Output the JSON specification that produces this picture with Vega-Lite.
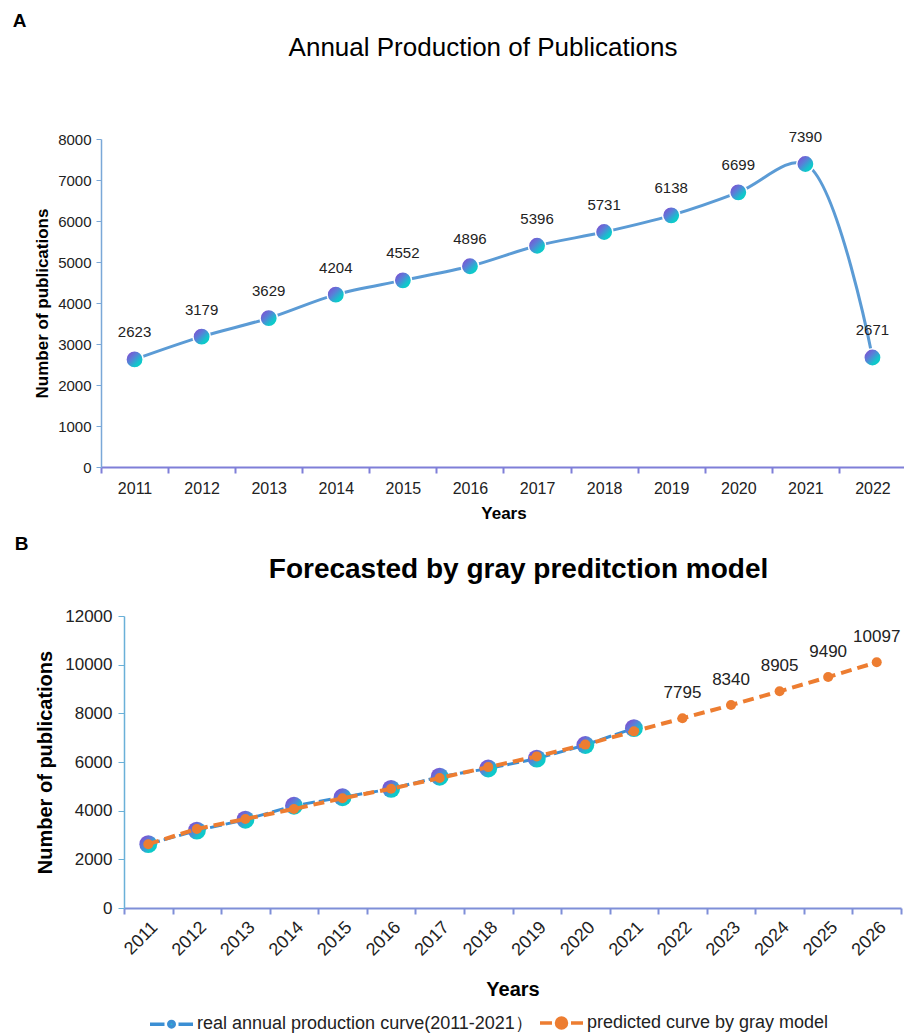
{
  "$schema": "https://vega.github.io/schema/vega-lite/v6.json",
  "background": "white",
  "padding": {"left": 12, "top": 12, "right": 0, "bottom": 0},
  "autosize": {"type": "pad"},
  "columns": 1,
  "align": "none",
  "spacing": 14,
  "datasets": {
    "pubs": [
      {"year": "2011", "count": 2623},
      {"year": "2012", "count": 3179},
      {"year": "2013", "count": 3629},
      {"year": "2014", "count": 4204},
      {"year": "2015", "count": 4552},
      {"year": "2016", "count": 4896},
      {"year": "2017", "count": 5396},
      {"year": "2018", "count": 5731},
      {"year": "2019", "count": 6138},
      {"year": "2020", "count": 6699},
      {"year": "2021", "count": 7390},
      {"year": "2022", "count": 2671}
    ],
    "forecast": [
      {"year": "2011", "series": "real annual production curve(2011-2021）", "value": 2623},
      {"year": "2012", "series": "real annual production curve(2011-2021）", "value": 3179},
      {"year": "2013", "series": "real annual production curve(2011-2021）", "value": 3629},
      {"year": "2014", "series": "real annual production curve(2011-2021）", "value": 4204},
      {"year": "2015", "series": "real annual production curve(2011-2021）", "value": 4552},
      {"year": "2016", "series": "real annual production curve(2011-2021）", "value": 4896},
      {"year": "2017", "series": "real annual production curve(2011-2021）", "value": 5396},
      {"year": "2018", "series": "real annual production curve(2011-2021）", "value": 5731},
      {"year": "2019", "series": "real annual production curve(2011-2021）", "value": 6138},
      {"year": "2020", "series": "real annual production curve(2011-2021）", "value": 6699},
      {"year": "2021", "series": "real annual production curve(2011-2021）", "value": 7390},
      {"year": "2011", "series": "predicted curve by gray model", "value": 2623},
      {"year": "2012", "series": "predicted curve by gray model", "value": 3250},
      {"year": "2013", "series": "predicted curve by gray model", "value": 3660},
      {"year": "2014", "series": "predicted curve by gray model", "value": 4070},
      {"year": "2015", "series": "predicted curve by gray model", "value": 4510},
      {"year": "2016", "series": "predicted curve by gray model", "value": 4900},
      {"year": "2017", "series": "predicted curve by gray model", "value": 5340},
      {"year": "2018", "series": "predicted curve by gray model", "value": 5790},
      {"year": "2019", "series": "predicted curve by gray model", "value": 6230},
      {"year": "2020", "series": "predicted curve by gray model", "value": 6715},
      {"year": "2021", "series": "predicted curve by gray model", "value": 7260},
      {"year": "2022", "series": "predicted curve by gray model", "value": 7795},
      {"year": "2023", "series": "predicted curve by gray model", "value": 8340},
      {"year": "2024", "series": "predicted curve by gray model", "value": 8905},
      {"year": "2025", "series": "predicted curve by gray model", "value": 9490},
      {"year": "2026", "series": "predicted curve by gray model", "value": 10097}
    ]
  },
  "concat": [
    {
      "title": {"text": "A", "anchor": "start", "frame": "bounds", "fontSize": 19, "fontWeight": "bold", "color": "#000", "dx": -21, "offset": 4},
      "vconcat": [
        {
          "title": {"text": "Annual Production of Publications", "frame": "group", "anchor": "middle", "fontSize": 26, "fontWeight": "normal", "color": "#000", "dx": -32, "offset": 69},
          "width": 782,
          "height": 328,
          "data": {"name": "pubs"},
          "encoding": {
            "x": {
              "field": "year", "type": "ordinal", "sort": "ascending",
              "scale": {"paddingInner": 0, "paddingOuter": 0, "range": [-23, 782]},
              "axis": {
                "title": "Years", "labelAngle": 0, "labelFontSize": 16, "labelColor": "#222", "labelPadding": 7,
                "tickBand": "extent", "tickSize": 6, "tickWidth": 2, "tickColor": "#7f7fd8",
                "domainColor": "#7f7fd8", "domainWidth": 2,
                "titleFontSize": 17, "titleFontWeight": "bold", "titleColor": "#000", "titlePadding": 9
              }
            },
            "y": {
              "field": "count", "type": "quantitative",
              "scale": {"domain": [0, 8000]},
              "axis": {
                "title": "Number of publications", "values": [0, 1000, 2000, 3000, 4000, 5000, 6000, 7000, 8000],
                "format": "d", "grid": false, "labelFontSize": 15, "labelColor": "#222", "labelPadding": 5,
                "tickSize": 5, "tickColor": "#7aa8d8", "domainColor": "#7aa8d8", "domainWidth": 1.5,
                "titleFontSize": 17, "titleFontWeight": "bold", "titleColor": "#000", "titlePadding": 6,
                "offset": 23
              }
            }
          },
          "layer": [
            {"mark": {"type": "line", "interpolate": "catmull-rom", "color": "#5b9bd5", "strokeWidth": 3}},
            {"mark": {"type": "point", "filled": true, "size": 300, "opacity": 1, "stroke": "white", "strokeWidth": 1.5,
              "fill": {"gradient": "linear", "x1": 0, "y1": 0, "x2": 1, "y2": 1,
                "stops": [{"offset": 0, "color": "#8c3ccf"}, {"offset": 0.4, "color": "#5a7ed8"}, {"offset": 0.7, "color": "#12c6cc"}, {"offset": 1, "color": "#00d2c2"}]}}},
            {"mark": {"type": "text", "fontSize": 15, "color": "#222", "baseline": "alphabetic", "dy": -22},
              "encoding": {"text": {"field": "count", "type": "quantitative", "format": "d"}}}
          ]
        }
      ]
    },
    {
      "title": {"text": "B", "anchor": "start", "frame": "bounds", "fontSize": 19, "fontWeight": "bold", "color": "#000", "dx": -21, "offset": 2},
      "vconcat": [
        {
          "title": {"text": "Forecasted by gray preditction model", "frame": "group", "anchor": "middle", "fontSize": 28, "fontWeight": "bold", "color": "#000", "dx": 6, "offset": 23},
          "width": 777,
          "height": 292,
          "data": {"name": "forecast"},
          "encoding": {
            "x": {
              "field": "year", "type": "ordinal", "sort": "ascending",
              "scale": {"paddingInner": 0, "paddingOuter": 0},
              "axis": {
                "title": "Years", "labelAngle": -45, "labelFontSize": 18, "labelColor": "#222", "labelPadding": 4,
                "tickBand": "extent", "tickSize": 6, "tickWidth": 2, "tickColor": "#7f8fd8",
                "domainColor": "#7f8fd8", "domainWidth": 2,
                "titleFontSize": 20, "titleFontWeight": "bold", "titleColor": "#000", "titlePadding": 20
              }
            },
            "y": {
              "field": "value", "type": "quantitative",
              "scale": {"domain": [0, 12000]},
              "axis": {
                "title": "Number of publications", "values": [0, 2000, 4000, 6000, 8000, 10000, 12000],
                "format": "d", "grid": false, "labelFontSize": 17, "labelColor": "#222", "labelPadding": 6,
                "tickSize": 6, "tickColor": "#6ab0d8", "domainColor": "#6ab0d8", "domainWidth": 1.5,
                "titleFontSize": 20, "titleFontWeight": "bold", "titleColor": "#000", "titlePadding": 9
              }
            }
          },
          "layer": [
            {
              "transform": [{"filter": "datum.series !== 'predicted curve by gray model'"}],
              "mark": {"type": "line", "strokeWidth": 3, "strokeDash": [12, 4]},
              "encoding": {
                "color": {
                  "field": "series", "type": "nominal",
                  "scale": {"domain": ["real annual production curve(2011-2021）", "predicted curve by gray model"], "range": ["#3b8fd4", "#ED7D31"]},
                  "legend": {
                    "orient": "bottom", "direction": "horizontal",
                    "title": " ", "titleOrient": "left", "titlePadding": 33, "titleFontSize": 18,
                    "labelFontSize": 18, "labelColor": "#222", "labelLimit": 0, "symbolSize": 100,
                    "labelOffset": 33, "columnPadding": 0, "offset": 14,
                    "encode": {
                      "symbols": {
                        "update": {
                          "shape": [
                            {"test": "datum.value === 'predicted curve by gray model'", "value": "M-1,0H1.4M5.2,0H7.6M3.3,-1A1,1 0 1,1 3.3,1A1,1 0 1,1 3.3,-1Z"},
                            {"value": "M-1,0H1.9M4.7,0H7.6M3.3,-0.55A0.55,0.55 0 1,1 3.3,0.55A0.55,0.55 0 1,1 3.3,-0.55Z"}
                          ],
                          "fill": [
                            {"test": "datum.value === 'predicted curve by gray model'", "value": "#ED7D31"},
                            {"value": "#2fb4d4"}
                          ],
                          "stroke": [
                            {"test": "datum.value === 'predicted curve by gray model'", "value": "#ED7D31"},
                            {"value": {"gradient": "linear", "x1": 0, "y1": 0, "x2": 1, "y2": 0, "stops": [{"offset": 0, "color": "#8c4fd0"}, {"offset": 0.5, "color": "#3fa0d8"}, {"offset": 1, "color": "#10c8c8"}]}}
                          ],
                          "strokeWidth": {"value": 3.5},
                          "strokeDash": {"value": []},
                          "opacity": {"value": 1}
                        }
                      }
                    }
                  }
                }
              }
            },
            {
              "transform": [{"filter": "datum.series !== 'predicted curve by gray model'"}],
              "mark": {"type": "point", "filled": true, "size": 320, "opacity": 1,
                "fill": {"gradient": "linear", "x1": 0, "y1": 0, "x2": 1, "y2": 1,
                  "stops": [{"offset": 0, "color": "#8c3ccf"}, {"offset": 0.4, "color": "#5a7ed8"}, {"offset": 0.7, "color": "#12c6cc"}, {"offset": 1, "color": "#00d2c2"}]}}
            },
            {
              "transform": [{"filter": "datum.series === 'predicted curve by gray model'"}],
              "mark": {"type": "line", "strokeWidth": 4, "strokeDash": [11, 6]},
              "encoding": {"color": {"field": "series", "type": "nominal"}}
            },
            {
              "transform": [{"filter": "datum.series === 'predicted curve by gray model'"}],
              "mark": {"type": "point", "filled": true, "size": 100, "opacity": 1, "color": "#ED7D31"}
            },
            {
              "transform": [{"filter": "datum.series === 'predicted curve by gray model' && datum.year >= '2022'"}],
              "mark": {"type": "text", "fontSize": 17, "color": "#222", "baseline": "alphabetic", "dy": -20},
              "encoding": {"text": {"field": "value", "type": "quantitative", "format": "d"}}
            }
          ]
        }
      ]
    }
  ],
  "config": {
    "font": "Liberation Sans",
    "view": {"stroke": null},
    "axis": {"labelFont": "Liberation Sans", "titleFont": "Liberation Sans"},
    "title": {"font": "Liberation Sans"},
    "legend": {"layout": {"bottom": {"anchor": "middle"}}}
  }
}
